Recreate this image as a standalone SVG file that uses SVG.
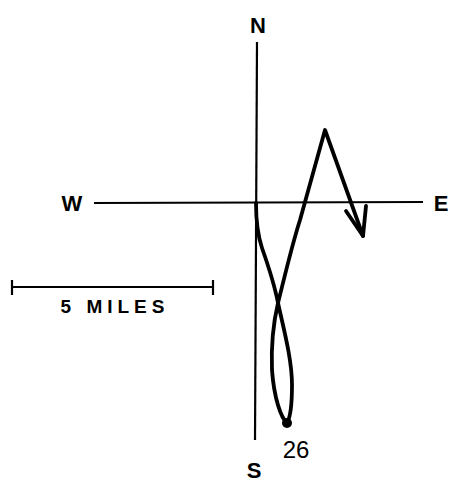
<svg xmlns="http://www.w3.org/2000/svg" width="450" height="483" viewBox="0 0 450 483">
<style>
.lbl{font-family:"Liberation Sans",Arial,sans-serif;font-weight:bold;font-size:22px;fill:#000}
.num{font-family:"Liberation Sans",Arial,sans-serif;font-size:24px;fill:#000}
.scl{font-family:"Liberation Sans",Arial,sans-serif;font-size:19px;font-weight:bold;letter-spacing:5px;fill:#000}
.axis{stroke:#000;stroke-width:2.2;fill:none}
.track{stroke:#000;stroke-width:3.8;fill:none;stroke-linecap:round;stroke-linejoin:round}
</style>
<rect width="450" height="483" fill="#fff"/>
<g id="axes">
<line class="axis" x1="257" y1="42" x2="255" y2="440"/>
<line class="axis" x1="94" y1="203" x2="423" y2="202"/>
</g>
<g id="labels">
<text class="lbl" x="258" y="33" text-anchor="middle">N</text>
<text class="lbl" x="254" y="478" text-anchor="middle">S</text>
<text class="lbl" x="72" y="211" text-anchor="middle">W</text>
<text class="lbl" x="441" y="211" text-anchor="middle">E</text>
<text class="num" x="296" y="458" text-anchor="middle">26</text>
</g>
<g id="scale">
<line class="axis" x1="12" y1="287" x2="213" y2="287"/>
<line class="axis" x1="12" y1="280" x2="12" y2="295"/>
<line class="axis" x1="213" y1="280" x2="213" y2="295"/>
<text class="scl" x="115" y="313" text-anchor="middle">5 MILES</text>
</g>
<g id="track">
<path class="track" d="M256 203 C256 225 258 236 262 248 C268 265 274 282 278 303 C284 330 292 360 292 385 C292 405 290 418 287 423 C281 418 274 398 272 370 C271 345 274 320 278 303 C285 275 292 245 300 220 L325 130 L363 236"/>
<path class="track" d="M346 211 L363 236 L366 206"/>
<circle cx="287" cy="423" r="5" fill="#000"/>
</g>
</svg>
